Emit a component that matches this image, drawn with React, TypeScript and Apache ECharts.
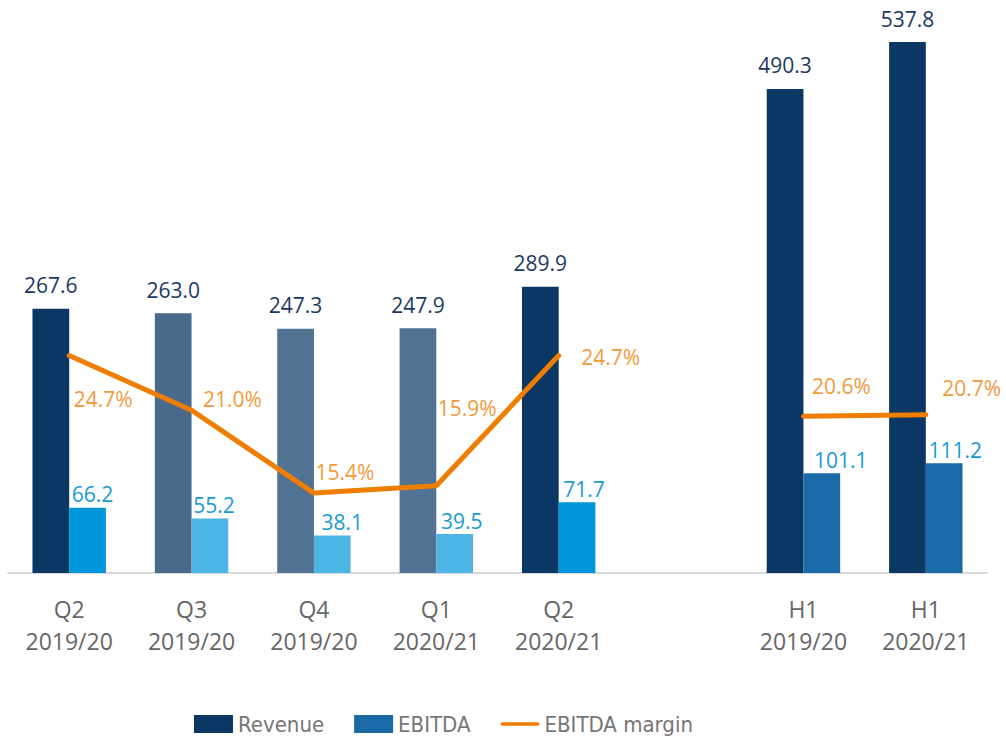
import React, { useEffect, useRef } from "react";
import * as echarts from "echarts";

const categories = [
  "Q2\n2019/20",
  "Q3\n2019/20",
  "Q4\n2019/20",
  "Q1\n2020/21",
  "Q2\n2020/21",
  "",
  "H1\n2019/20",
  "H1\n2020/21",
];
const revenue = [267.6, 263.0, 247.3, 247.9, 289.9, null, 490.3, 537.8];
const ebitda = [66.2, 55.2, 38.1, 39.5, 71.7, null, 101.1, 111.2];
const ebitdaMargin = [24.7, 21.0, 15.4, 15.9, 24.7, null, 20.6, 20.7];

const revenueColors = ["#0b3764", "#4a6a8c", "#527294", "#527294", "#0b3764", "#0b3764", "#0b3764", "#0b3764"];
const ebitdaColors = ["#0096db", "#4db4e6", "#4db4e6", "#4db4e6", "#0096db", "#1a6aa8", "#1a6aa8", "#1a6aa8"];
// label offsets (style only)
const ebitdaLabelShift = [5, 4, 10, 7, 7, 0, 19, 11];
const marginLabelShift: number[][] = [
  [4, 43],
  [11, -11],
  [1, -21],
  [1, -78],
  [22, 1],
  [0, 0],
  [8, -30],
  [16, -27],
];

const LABEL_FONT = "'Open Sans', sans-serif";

export default function App() {
  const ref = useRef<HTMLDivElement>(null);
  useEffect(() => {
    if (!ref.current) return;
    const chart = echarts.init(ref.current, null, { renderer: "svg" });
    chart.setOption({
      animation: false,
      backgroundColor: "#ffffff",
      grid: { left: 8, right: 19, top: 30, bottom: 167, containLabel: false },
      legend: {
        left: 194,
        top: 713,
        padding: 0,
        itemWidth: 39,
        itemHeight: 18,
        itemGap: 30,
        textStyle: {
          fontFamily: "'DejaVu Sans Condensed', 'Open Sans', sans-serif",
          fontSize: 22,
          lineHeight: 22,
          color: "#767676",
        },
        data: [
          { name: "Revenue", icon: "rect" },
          { name: "EBITDA", icon: "rect" },
          {
            name: "EBITDA margin",
            icon: "path://M2,0 L42,0 A2,2 0 0 1 42,4 L2,4 A2,2 0 0 1 2,0 Z",
            itemStyle: { color: "#ef7d00" },
          },
        ],
      },
      xAxis: {
        type: "category",
        data: categories,
        axisTick: { show: false },
        axisLine: { lineStyle: { color: "#d9d9d9", width: 2 } },
        axisLabel: {
          color: "#666666",
          fontFamily: LABEL_FONT,
          fontSize: 23,
          lineHeight: 32,
          margin: 20,
        },
      },
      yAxis: [
        { type: "value", min: 0, max: 550, show: false, splitLine: { show: false } },
        { type: "value", min: 10, max: 46.7, show: false, splitLine: { show: false } },
      ],
      series: [
        {
          name: "Revenue",
          type: "bar",
          barWidth: "30%",
          barGap: "0%",
          itemStyle: { color: "#0b3764" },
          label: {
            show: true,
            position: "top",
            distance: 13,
            color: "#1b3a63",
            fontFamily: LABEL_FONT,
            fontSize: 21,
            formatter: (p: any) => Number(p.value).toFixed(1),
          },
          data: revenue.map((v, i) =>
            v == null ? "-" : { value: v, itemStyle: { color: revenueColors[i] } }
          ),
        },
        {
          name: "EBITDA",
          type: "bar",
          barWidth: "30%",
          barGap: "0%",
          itemStyle: { color: "#1a6aa8" },
          label: {
            show: true,
            position: "top",
            distance: 3,
            color: "#1a9ad6",
            fontFamily: LABEL_FONT,
            fontSize: 21,
            formatter: (p: any) => Number(p.value).toFixed(1),
          },
          data: ebitda.map((v, i) =>
            v == null
              ? "-"
              : {
                  value: v,
                  itemStyle: { color: ebitdaColors[i] },
                  label: { offset: [ebitdaLabelShift[i], 0] },
                }
          ),
        },
        {
          name: "EBITDA margin",
          type: "line",
          yAxisIndex: 1,
          symbol: "none",
          connectNulls: false,
          z: 5,
          itemStyle: { color: "#ef7d00" },
          lineStyle: { color: "#ef7d00", width: 5, cap: "round", join: "round" },
          data: ebitdaMargin.map((v) => (v == null ? "-" : v)),
        },
        {
          name: "marginLabels",
          type: "scatter",
          yAxisIndex: 1,
          symbolSize: 1,
          itemStyle: { color: "rgba(0,0,0,0)" },
          silent: true,
          z: 6,
          label: {
            show: true,
            position: "right",
            distance: 0,
            color: "#ef7d00",
            fontFamily: LABEL_FONT,
            fontSize: 21,
            formatter: (p: any) => Number(p.value[1] ?? p.value).toFixed(1) + "%",
          },
          data: ebitdaMargin.map((v, i) =>
            v == null
              ? "-"
              : { value: v, label: { offset: marginLabelShift[i] } }
          ),
        },
      ],
    });
    return () => chart.dispose();
  }, []);
  return (
    <div
      ref={ref}
      style={{ position: "absolute", left: 0, top: 0, width: 1006, height: 740 }}
    />
  );
}
